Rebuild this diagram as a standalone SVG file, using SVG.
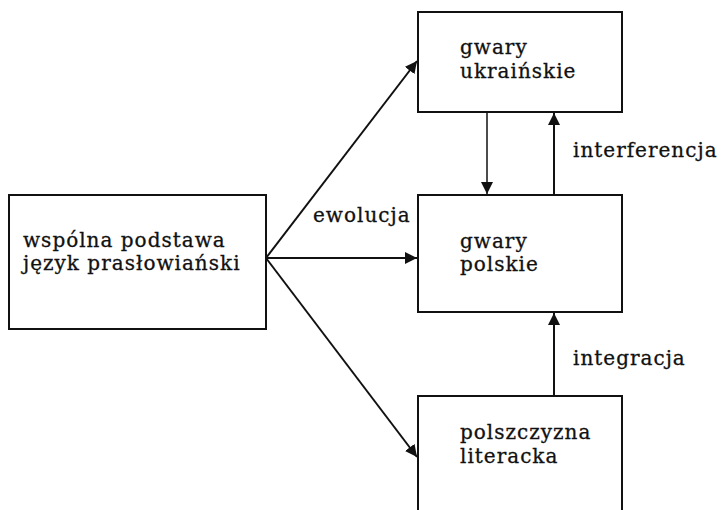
<svg xmlns="http://www.w3.org/2000/svg" width="721" height="510" viewBox="0 0 721 510">
<style>
.box{fill:#fff;stroke:#111;stroke-width:2}
.t{font-family:"DejaVu Serif","Liberation Serif",serif;font-size:20px;letter-spacing:1px;fill:#111;stroke:#111;stroke-width:0.3}
.c{stroke:#111;stroke-width:2;fill:none}
</style>
<defs>
<marker id="ah" viewBox="0 0 10 10" refX="10" refY="5" markerWidth="12" markerHeight="12" markerUnits="userSpaceOnUse" orient="auto">
<path d="M0,0 L10,5 L0,10 z" fill="#111"/>
</marker>
</defs>
<rect width="721" height="510" fill="#fff"/>
<g id="connectors">
<line class="c" x1="266" y1="258" x2="417" y2="61" marker-end="url(#ah)"/>
<line class="c" x1="266" y1="258" x2="417" y2="258" marker-end="url(#ah)"/>
<line class="c" x1="266" y1="258" x2="417" y2="457" marker-end="url(#ah)"/>
<line class="c" style="stroke-width:1.5" x1="487" y1="112" x2="487" y2="194" marker-end="url(#ah)"/>
<line class="c" x1="554" y1="195" x2="554" y2="113" marker-end="url(#ah)"/>
<line class="c" x1="554" y1="396" x2="554" y2="313" marker-end="url(#ah)"/>
<text class="t" x="313" y="222">ewolucja</text>
<text class="t" x="573" y="157">interferencja</text>
<text class="t" x="573" y="365">integracja</text>
</g>
<g id="n1">
<rect class="box" x="9" y="195" width="257" height="134"/>
<text class="t" x="23" y="247">wspólna podstawa</text>
<text class="t" x="23" y="270">język prasłowiański</text>
</g>
<g id="n2">
<rect class="box" x="418" y="12" width="204" height="100"/>
<text class="t" x="460" y="54">gwary</text>
<text class="t" x="460" y="78">ukraińskie</text>
</g>
<g id="n3">
<rect class="box" x="418" y="195" width="204" height="117"/>
<text class="t" x="460" y="248">gwary</text>
<text class="t" x="460" y="271">polskie</text>
</g>
<g id="n4">
<rect class="box" x="418" y="396" width="204" height="130"/>
<text class="t" x="460" y="439">polszczyzna</text>
<text class="t" x="460" y="463">literacka</text>
</g>
</svg>
